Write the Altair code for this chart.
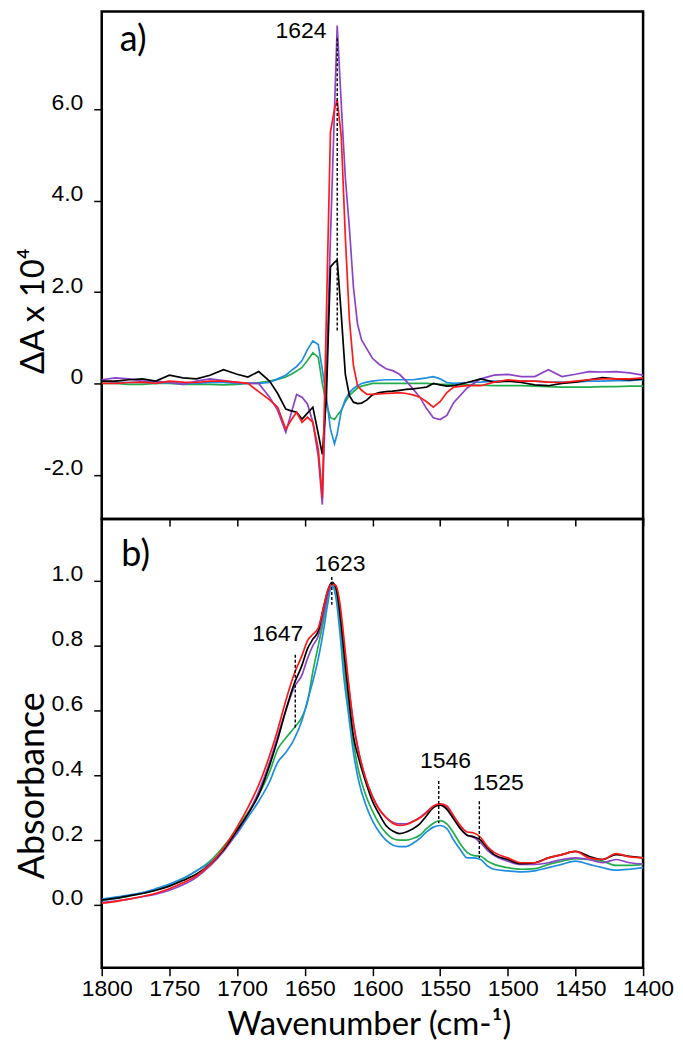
import altair as alt
import pandas as pd

# ---------------- panel a: difference spectra ----------------
WN_A = [1800, 1790, 1780, 1770, 1760, 1750, 1740, 1730, 1720, 1710, 1700,
        1692, 1684, 1676, 1670, 1664, 1660, 1656, 1652, 1648, 1644, 1640,
        1637, 1634, 1631, 1628, 1626, 1623, 1620, 1617, 1614, 1611, 1608, 1604, 1600,
        1595, 1590, 1585, 1580, 1575, 1570, 1565, 1560, 1555, 1550, 1545, 1540,
        1530, 1520, 1510, 1500, 1490, 1480, 1470, 1460, 1450, 1440, 1430, 1420, 1410, 1400]

A_BLACK = [0.05, 0.05, 0.08, 0.1, 0.05, 0.18, 0.12, 0.1, 0.18, 0.3, 0.2,
           0.14, 0.26, 0.05, -0.22, -0.56, -0.6, -0.63, -0.78, -0.65, -0.52, -1.1,
           -1.55, -0.3, 2.55, 2.65, 2.7, 1.5, 0.2, -0.27, -0.41, -0.44, -0.43, -0.36, -0.25,
           -0.2, -0.18, -0.17, -0.15, -0.13, -0.12, -0.1, -0.08, 0.0, -0.03, -0.06, -0.05,
           0.02, 0.1, 0.03, 0.05, 0.02, -0.03, -0.05, 0.0, 0.03, 0.08, 0.13, 0.1, 0.08, 0.1]

A_RED = [0.0, 0.0, 0.02, 0.03, 0.0, 0.05, 0.03, 0.02, 0.05, 0.05, 0.03,
         0.0, -0.18, -0.36, -0.52, -1.0, -0.8, -0.63, -0.85, -0.74, -0.85, -1.43,
         -2.5, 1.5, 5.5, 6.0, 6.2, 5.4, 3.2, 1.4, 0.39, -0.05, -0.15, -0.24, -0.24,
         -0.23, -0.22, -0.21, -0.2, -0.22, -0.25, -0.3, -0.4, -0.52, -0.4, -0.2, -0.08,
         -0.05, -0.05, 0.03, 0.08, 0.05, 0.05, 0.03, 0.02, 0.05, 0.08, 0.1, 0.1, 0.1, 0.12]

A_PURPLE = [0.08, 0.12, 0.1, 0.05, 0.05, 0.02, -0.02, 0.05, 0.1, 0.06, 0.02,
            0.0, 0.0, -0.3, -0.59, -1.07, -0.65, -0.24, -0.3, -0.45, -0.85, -1.6,
            -2.65, 0.2, 3.2, 6.0, 7.83, 6.1, 4.5, 3.4, 2.1, 1.3, 0.95, 0.75, 0.55,
            0.42, 0.32, 0.28, 0.2, 0.05, -0.12, -0.3, -0.55, -0.75, -0.79, -0.7, -0.42,
            -0.1, 0.1, 0.18, 0.2, 0.15, 0.15, 0.3, 0.15, 0.2, 0.26, 0.25, 0.26, 0.23, 0.18]

A_BLUE = [0.05, 0.03, 0.02, 0.03, 0.0, 0.02, 0.0, 0.0, 0.02, 0.02, 0.0,
          0.0, 0.0, 0.02, 0.1, 0.18, 0.28, 0.37, 0.5, 0.74, 0.93, 0.85,
          0.3, -0.3, -1.0, -1.32, -1.1, -0.6, -0.35, -0.2, -0.11, -0.05, 0.0, 0.03, 0.05,
          0.07, 0.08, 0.08, 0.08, 0.08, 0.08, 0.1, 0.12, 0.15, 0.1, 0.02, 0.0,
          0.02, 0.03, 0.05, 0.05, 0.05, 0.05, 0.03, 0.03, 0.03, 0.05, 0.05, 0.06, 0.06, 0.08]

A_GREEN = [0.0, 0.0, -0.02, -0.02, 0.0, 0.0, -0.02, -0.02, -0.02, -0.03, -0.02,
           0.0, 0.02, 0.05, 0.09, 0.14, 0.2, 0.27, 0.35, 0.5, 0.67, 0.57,
           0.0, -0.45, -0.75, -0.79, -0.7, -0.59, -0.4, -0.26, -0.18, -0.1, -0.06, -0.03, 0.0,
           0.0, 0.0, 0.0, 0.0, 0.0, 0.0, 0.0, 0.0, -0.01, -0.02, -0.02, -0.03,
           -0.03, -0.04, -0.05, -0.05, -0.05, -0.06, -0.07, -0.08, -0.08, -0.08, -0.07, -0.07, -0.06, -0.06]

# ---------------- panel b: absorbance spectra ----------------
WN_B = [1800, 1790, 1780, 1770, 1760, 1750, 1740, 1730, 1720, 1710, 1700,
        1692, 1684, 1676, 1670, 1664, 1658, 1652, 1648, 1644, 1640,
        1636, 1633, 1630, 1627, 1624, 1621, 1618, 1614, 1610, 1605, 1600,
        1595, 1590, 1585, 1580, 1575, 1570, 1565, 1560, 1555, 1550, 1545, 1540,
        1535, 1530, 1525, 1520, 1515, 1510,
        1500, 1490, 1480, 1470, 1460, 1450, 1440, 1430, 1420, 1410, 1400]

B_BLACK = [0.015, 0.02, 0.028, 0.035, 0.045, 0.058, 0.075, 0.095, 0.125, 0.17, 0.23,
           0.28, 0.34, 0.43, 0.51, 0.6, 0.68, 0.74, 0.79, 0.82, 0.845,
           0.92, 0.97, 0.995, 0.98, 0.9, 0.78, 0.66, 0.52, 0.45, 0.38, 0.32,
           0.28, 0.245, 0.228, 0.22, 0.225, 0.235, 0.25, 0.275, 0.3, 0.308, 0.295, 0.265,
           0.235, 0.215, 0.21, 0.2, 0.175, 0.155,
           0.14, 0.127, 0.13, 0.145, 0.155, 0.165, 0.15, 0.14, 0.155, 0.15, 0.145]

B_RED = [0.005, 0.01, 0.018, 0.026, 0.036, 0.05, 0.068, 0.09, 0.125, 0.175, 0.24,
         0.3, 0.37, 0.46, 0.54, 0.63, 0.71, 0.77, 0.815, 0.835, 0.855,
         0.92, 0.97, 0.99, 0.985, 0.93, 0.82, 0.7, 0.56, 0.47, 0.39, 0.335,
         0.295, 0.27, 0.252, 0.245, 0.248, 0.257, 0.268, 0.285, 0.305, 0.312, 0.305, 0.275,
         0.245, 0.225, 0.222, 0.208, 0.18, 0.162,
         0.145, 0.13, 0.13, 0.145, 0.155, 0.165, 0.145, 0.14, 0.158, 0.148, 0.145]

B_PURPLE = [0.008, 0.012, 0.018, 0.025, 0.033, 0.045, 0.062, 0.085, 0.12, 0.165, 0.225,
            0.28, 0.35, 0.44, 0.52, 0.6, 0.67, 0.71, 0.76, 0.8, 0.83,
            0.9, 0.96, 0.99, 0.985, 0.92, 0.8, 0.69, 0.56, 0.47, 0.39, 0.335,
            0.295, 0.27, 0.255, 0.25, 0.25, 0.258, 0.27, 0.287, 0.303, 0.31, 0.3, 0.268,
            0.238, 0.215, 0.208, 0.192, 0.168, 0.152,
            0.135, 0.125, 0.125, 0.13, 0.14, 0.145, 0.14, 0.13, 0.14, 0.13, 0.126]

B_GREEN = [0.015, 0.02, 0.027, 0.035, 0.046, 0.06, 0.08, 0.105, 0.135, 0.18, 0.235,
           0.285, 0.34, 0.41, 0.48, 0.515, 0.545, 0.58, 0.625, 0.72, 0.8,
           0.88, 0.95, 0.99, 0.97, 0.87, 0.74, 0.63, 0.5, 0.41, 0.34, 0.29,
           0.25, 0.222, 0.205, 0.2, 0.2, 0.205, 0.215, 0.235, 0.252, 0.26, 0.25, 0.222,
           0.188, 0.162, 0.152, 0.15, 0.135, 0.125,
           0.115, 0.11, 0.112, 0.125, 0.135, 0.143, 0.14, 0.135, 0.122, 0.122, 0.125]

B_BLUE = [0.018, 0.024, 0.03, 0.038, 0.05, 0.064, 0.082, 0.105, 0.13, 0.17, 0.22,
          0.27, 0.32, 0.38, 0.44, 0.47, 0.51, 0.57, 0.63, 0.69, 0.76,
          0.85, 0.93, 0.985, 0.95, 0.84, 0.7, 0.6, 0.47, 0.38, 0.31, 0.26,
          0.225, 0.2, 0.185, 0.18, 0.18, 0.19, 0.205, 0.225, 0.24, 0.245, 0.235, 0.2,
          0.17, 0.145, 0.145, 0.14, 0.12, 0.11,
          0.105, 0.102, 0.105, 0.115, 0.125, 0.135, 0.125, 0.115, 0.107, 0.11, 0.115]

# ---------------- axes / annotations ----------------
X_TICKS = [1800, 1750, 1700, 1650, 1600, 1550, 1500, 1450, 1400]
A_TICKS = [-2, 0, 2, 4, 6]
A_TICK_LABELS = ["-2.0", "0", "2.0", "4.0", "6.0"]
B_TICKS = [0.0, 0.2, 0.4, 0.6, 0.8, 1.0]
B_TICK_LABELS = ["0.0", "0.2", "0.4", "0.6", "0.8", "1.0"]

A_MARK_WN = [1626]
A_MARK_TOP = [7.55]
A_MARK_BOTTOM = [1.16]
A_LABELS = ["1624"]
A_LABEL_WN = [1652.7]
A_LABEL_Y = [7.7]

B_MARK_WN = [1630, 1657, 1551, 1521]
B_MARK_TOP = [1.012, 0.772, 0.382, 0.32]
B_MARK_BOTTOM = [0.926, 0.545, 0.252, 0.145]
B_LABELS = ["1623", "1647", "1546", "1525"]
B_LABEL_WN = [1624, 1670, 1546, 1507]
B_LABEL_Y = [1.052, 0.837, 0.443, 0.375]

PANEL_TAGS = ["a)", "b)"]
PANEL_TAG_WN = [1786.7, 1785.5]
PANEL_TAG_Y = [7.52, 1.08]

COLORS = {"green": "#22ad4c", "blue": "#1f8de0", "purple": "#8c44c6",
          "black": "#000000", "red": "#ff1a1a"}

W = 543
HA = 509
HB = 450

TICK_FONT = "Liberation Sans"
TITLE_FONT = "Lato"


def label_expr(vals, labels):
    expr = "''"
    for v, l in reversed(list(zip(vals, labels))):
        expr = f"abs(datum.value - ({v})) < 1e-6 ? '{l}' : ({expr})"
    return expr


xscale = alt.Scale(domain=[1400, 1800], reverse=True, nice=False, zero=False)
ya_scale = alt.Scale(domain=[-2.966, 8.135], nice=False, zero=False)
yb_scale = alt.Scale(domain=[-0.1938, 1.1908], nice=False, zero=False)

common_tick = dict(tickColor="black", tickWidth=1.5, domain=False, grid=False,
                   labelFont=TICK_FONT, labelFontSize=23, labelColor="black")

xa_axis = alt.Axis(values=X_TICKS, labels=False, ticks=True, tickSize=7,
                   tickColor="black", tickWidth=1.5, domain=False, grid=False, title=None)
ya_axis = alt.Axis(values=A_TICKS, labelExpr=label_expr(A_TICKS, A_TICK_LABELS),
                   tickSize=8, labelPadding=11, labelBaseline="alphabetic",
                   title="ΔA x 10⁴", titleFont=TITLE_FONT, titleFontSize=33,
                   titleFontWeight="normal", titleColor="black", titleAngle=270,
                   titleAlign="center", titleBaseline="alphabetic",
                   titleX=-58, titleY=300, **common_tick)

xb_axis = alt.Axis(values=X_TICKS, format="d", tickSize=8, labelPadding=2,
                   labelOffset=5, labelFlush=False, labelOverlap=False, labelBound=False,
                   title="Wavenumber (cm-¹)", titleFont=TITLE_FONT, titleFontSize=33,
                   titleFontWeight="normal", titleColor="black",
                   titleBaseline="alphabetic", titleY=67, titleX=268, **common_tick)
yb_axis = alt.Axis(values=B_TICKS, labelExpr=label_expr(B_TICKS, B_TICK_LABELS),
                   tickSize=8, labelPadding=11, labelBaseline="alphabetic",
                   title="Absorbance", titleFont=TITLE_FONT, titleFontSize=36,
                   titleFontWeight="normal", titleColor="black", titleAngle=270,
                   titleAlign="center", titleBaseline="alphabetic",
                   titleX=-58, titleY=267, **common_tick)


def panel(wn, series, xaxis, yaxis, yscale, marks_wn, marks_top, marks_bot,
          labels, label_wn, label_y, tag, tag_wn, tag_y, height, interp):
    X = alt.X("wn:Q", scale=xscale, axis=xaxis)
    Y = alt.Y("v:Q", scale=yscale, axis=yaxis)
    layers = []
    for name, vals in series:
        df = pd.DataFrame({"wn": wn, "v": vals})
        layers.append(alt.Chart(df).mark_line(color=COLORS[name], strokeWidth=1.7,
                                               interpolate=interp, clip=True)
                      .encode(x=X, y=Y))
    rules = pd.DataFrame({"wn": marks_wn, "v": marks_top, "v2": marks_bot})
    layers.append(alt.Chart(rules).mark_rule(color="black", strokeWidth=1.4,
                                             strokeDash=[3, 2]).encode(x=X, y=Y, y2="v2:Q"))
    txt = pd.DataFrame({"wn": label_wn, "v": label_y, "t": labels})
    layers.append(alt.Chart(txt).mark_text(font=TICK_FONT, fontSize=23, color="black",
                                           align="center", baseline="middle")
                  .encode(x=X, y=Y, text="t:N"))
    tg = pd.DataFrame({"wn": [tag_wn], "v": [tag_y], "t": [tag]})
    layers.append(alt.Chart(tg).mark_text(font=TITLE_FONT, fontSize=36, color="black",
                                          align="left", baseline="middle")
                  .encode(x=X, y=Y, text="t:N"))
    return alt.layer(*layers).properties(width=W, height=height)


panel_a = panel(WN_A, [("green", A_GREEN), ("blue", A_BLUE), ("purple", A_PURPLE),
                       ("black", A_BLACK), ("red", A_RED)],
                xa_axis, ya_axis, ya_scale, A_MARK_WN, A_MARK_TOP, A_MARK_BOTTOM,
                A_LABELS, A_LABEL_WN, A_LABEL_Y, PANEL_TAGS[0], PANEL_TAG_WN[0],
                PANEL_TAG_Y[0], HA, "linear")

panel_b = panel(WN_B, [("green", B_GREEN), ("blue", B_BLUE), ("purple", B_PURPLE),
                       ("black", B_BLACK), ("red", B_RED)],
                xb_axis, yb_axis, yb_scale, B_MARK_WN, B_MARK_TOP, B_MARK_BOTTOM,
                B_LABELS, B_LABEL_WN, B_LABEL_Y, PANEL_TAGS[1], PANEL_TAG_WN[1],
                PANEL_TAG_Y[1], HB, "monotone")

chart = alt.vconcat(panel_a, panel_b, spacing=0, bounds="flush").properties(
    padding={"left": 5, "top": 0, "right": 0, "bottom": 0},
    background="white"
).configure_view(stroke="black", strokeWidth=2.5)

chart.save("out.html", embed_options={"renderer": "svg", "actions": False})
